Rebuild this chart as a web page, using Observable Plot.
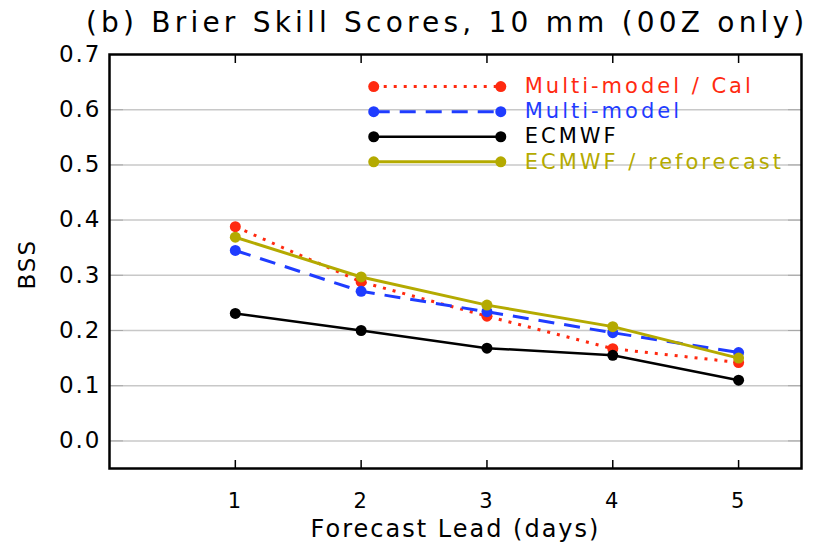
<!DOCTYPE html>
<html>
<head>
<meta charset="utf-8">
<script src="https://cdn.jsdelivr.net/npm/d3@7"></script>
<script src="https://cdn.jsdelivr.net/npm/@observablehq/plot@0.6"></script>
<style>
  body { margin: 0; background: #fff; }
  #title { font-family: "DejaVu Sans", sans-serif; font-size: 28px; letter-spacing: 4.2px;
           height: 38px; line-height: 46px; width: 817px; box-sizing: border-box; overflow: visible;
           padding-left: 86px; text-align: left; color: #000; white-space: nowrap; }
  #chart svg text { letter-spacing: 2px; }
</style>
</head>
<body>
<div id="title">(b) Brier Skill Scores, 10 mm (00Z only)</div>
<div id="chart"></div>
<script>
// valores
const days = [1, 2, 3, 4, 5]
const multiCal = [0.388, 0.288, 0.226, 0.167, 0.142]
const multi = [0.345, 0.271, 0.234, 0.196, 0.160]
const ecmwf = [0.231, 0.200, 0.168, 0.155, 0.110]
const reforecast = [0.369, 0.297, 0.246, 0.207, 0.150]

const names = ["Multi-model / Cal", "Multi-model", "ECMWF", "ECMWF / reforecast"]
const colors = ["#ff2a10", "#1f3cff", "#000000", "#b4aa00"]
const dashes = ["3,7", "16,10", null, null]

const yTicks = [0.0, 0.1, 0.2, 0.3, 0.4, 0.5, 0.6, 0.7]
const gridTicks = [0.0, 0.1, 0.2, 0.3, 0.4, 0.5, 0.6]
const xTicks = [1, 2, 3, 4, 5]

const values = [multiCal, multi, ecmwf, reforecast]
const data = []
values.forEach((vals, s) => vals.forEach((v, i) => data.push({day: days[i], bss: v, serie: s})))

// leyenda dentro del grafico
const legend = names.map((n, i) => ({name: n, i: i, y: 0.642 - i * 0.0455, x1: 2.1, x2: 3.11, xt: 3.3}))

const font = "DejaVu Sans, sans-serif"

let marks = [
  Plot.gridY(gridTicks, {stroke: "#c8c8c8", strokeOpacity: 1, strokeWidth: 1.5}),
  Plot.axisY(gridTicks, {anchor: "left", tickSize: -14, stroke: "#a8a8a8", tickFormat: () => "", label: null}),
  Plot.axisY(gridTicks, {anchor: "right", tickSize: -14, stroke: "#a8a8a8", tickFormat: () => "", label: null}),
  Plot.axisY(yTicks, {anchor: "left", tickSize: 0, tickPadding: 8, tickFormat: d3.format(".1f"),
    fontSize: 23, label: null}),
  Plot.axisX(xTicks, {anchor: "bottom", tickSize: -8, tickFormat: () => "", label: null, strokeWidth: 1.5}),
  Plot.axisX(xTicks, {anchor: "top", tickSize: -8, tickFormat: () => "", label: null, strokeWidth: 1.5}),
  Plot.axisX(xTicks, {anchor: "bottom", tickSize: 0, tickPadding: 25, tickFormat: d3.format("d"),
    fontSize: 21, label: null}),
  Plot.text(["Forecast Lead (days)"], {frameAnchor: "bottom", dy: 68, text: d => d, fontSize: 24,
    fill: "#000", fontFamily: font}),
  Plot.text(["BSS"], {frameAnchor: "left", dx: -82, dy: 28, rotate: -90, text: d => d, fontSize: 23,
    fill: "#000", fontFamily: font})
]

values.forEach((vals, s) => {
  const rows = data.filter(d => d.serie === s)
  marks.push(Plot.line(rows, {x: "day", y: "bss", stroke: colors[s], strokeWidth: s === 2 ? 2.5 : 3,
    strokeDasharray: dashes[s], strokeLinecap: "butt"}))
  marks.push(Plot.dot(rows, {x: "day", y: "bss", r: 5.5, fill: colors[s], stroke: "none"}))
})

legend.forEach(l => {
  marks.push(Plot.link([l], {x1: "x1", x2: "x2", y1: "y", y2: "y", stroke: colors[l.i],
    strokeWidth: l.i === 2 ? 2.5 : 3, strokeDasharray: dashes[l.i], strokeLinecap: "butt"}))
  marks.push(Plot.dot([l, l], {x: (d, j) => j === 0 ? d.x1 : d.x2, y: "y", r: 5.5, fill: colors[l.i], stroke: "none"}))
  marks.push(Plot.text([l], {x: "xt", y: "y", text: "name", textAnchor: "start", fill: colors[l.i],
    fontSize: 21, fontFamily: font}))
})

marks.push(Plot.frame({stroke: "#000", strokeWidth: 2.5}))

let chart = Plot.plot({
  width: 817,
  height: 510,
  marginLeft: 109,
  marginRight: 16,
  marginTop: 16,
  marginBottom: 80,
  style: {fontFamily: font, color: "#000", background: "#fff"},
  x: {domain: [0, 5.5]},
  y: {domain: [-0.05, 0.7]},
  marks: marks
})

// textos de la leyenda mas espaciados
d3.select(chart).selectAll("text")
  .filter(function () { return names.includes(this.textContent) })
  .style("letter-spacing", "3px")

d3.select('#chart').append(() => chart)
</script>
</body>
</html>
